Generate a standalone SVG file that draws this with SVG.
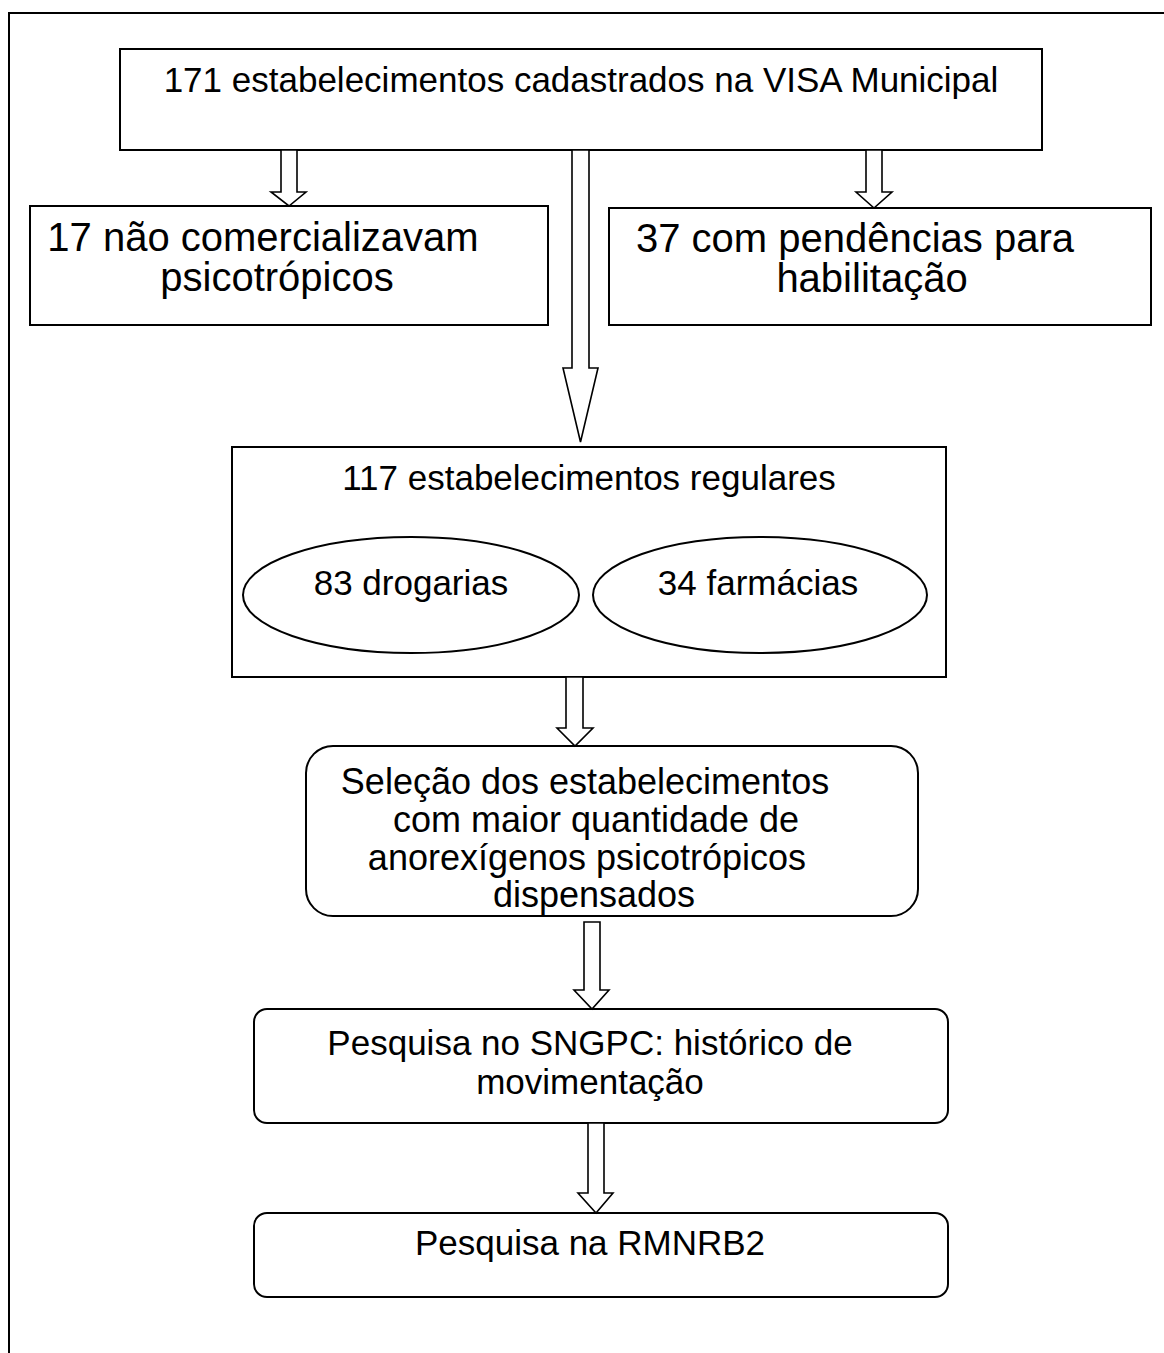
<svg xmlns="http://www.w3.org/2000/svg" width="1164" height="1353" viewBox="0 0 1164 1353">
<style>
.box{fill:#fff;stroke:#000;stroke-width:2}
.arr{fill:#fff;stroke:#000;stroke-width:1.6;stroke-linejoin:miter}
text{font-family:"Liberation Sans",Arial,sans-serif;font-size:35px;fill:#000;text-anchor:middle}
.t40{font-size:40px}
.t37{font-size:36px}
</style>
<rect x="0" y="0" width="1164" height="1353" fill="#fff"/>
<rect x="9" y="13" width="1170" height="1360" fill="none" stroke="#000" stroke-width="2"/>
<g id="n1"><rect class="box" x="120" y="49" width="922" height="101"/><text x="581" y="92">171 estabelecimentos cadastrados na VISA Municipal</text></g>
<g id="n2"><rect class="box" x="30" y="206" width="518" height="119"/><text class="t40" x="263" y="251">17 não comercializavam</text><text class="t40" x="277" y="291">psicotrópicos</text></g>
<g id="n3"><rect class="box" x="609" y="208" width="542" height="117"/><text class="t40" x="855" y="252">37 com pendências para</text><text class="t40" x="872" y="292">habilitação</text></g>
<g id="n4"><rect class="box" x="232" y="447" width="714" height="230"/><text x="589" y="490">117 estabelecimentos regulares</text></g>
<g id="n5"><ellipse class="box" cx="411" cy="595" rx="168" ry="58" stroke-width="1.6"/><text x="411" y="595">83 drogarias</text></g>
<g id="n6"><ellipse class="box" cx="760" cy="595" rx="167" ry="58" stroke-width="1.6"/><text x="758" y="595">34 farmácias</text></g>
<g id="n7"><rect class="box" x="306" y="746" width="612" height="170" rx="27" ry="27"/><text class="t37" x="585" y="794">Seleção dos estabelecimentos</text><text class="t37" x="596" y="832">com maior quantidade de</text><text class="t37" x="587" y="870">anorexígenos psicotrópicos</text><text class="t37" x="594" y="907">dispensados</text></g>
<g id="n8"><rect class="box" x="254" y="1009" width="694" height="114" rx="13" ry="13"/><text x="590" y="1055">Pesquisa no SNGPC: histórico de</text><text x="590" y="1094">movimentação</text></g>
<g id="n9"><rect class="box" x="254" y="1213" width="694" height="84" rx="13" ry="13"/><text x="590" y="1255">Pesquisa na RMNRB2</text></g>
<g id="connectors">
<polygon class="arr" points="281,150 297,150 297,192 306,192 289,206 271,192 281,192"/>
<polygon class="arr" points="866,150 882,150 882,192 892,192 874,208 856,192 866,192"/>
<polygon class="arr" points="572,150 589,150 589,368 598,368 580.5,442 563,368 572,368"/>
<polygon class="arr" points="566,677 583,677 583,728 593,728 575,746 557,728 566,728"/>
<polygon class="arr" points="584,922 600,922 600,990 609,990 592,1009 574,990 584,990"/>
<polygon class="arr" points="588,1123 604,1123 604,1193 613,1193 596,1213 578,1193 588,1193"/>
</g>
</svg>
